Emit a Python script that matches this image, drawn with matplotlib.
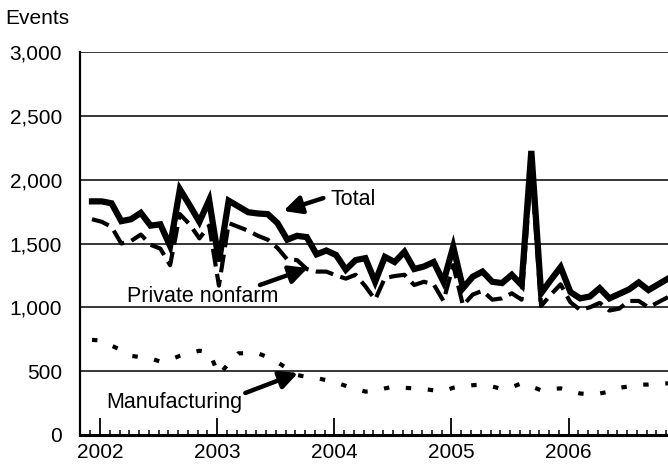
import matplotlib
matplotlib.use("Agg")
import matplotlib.pyplot as plt
import numpy as np

plt.rcParams['font.family'] = ['Liberation Sans', 'DejaVu Sans']

# monthly values, Jan 2002 - Dec 2006
total = [1830, 1830, 1815, 1675, 1690, 1740, 1640, 1650, 1480, 1925, 1800, 1670,
         1840, 1360, 1835, 1790, 1745, 1735, 1730, 1660, 1530, 1560, 1550, 1415,
         1445, 1410, 1295, 1370, 1385, 1200, 1395, 1355, 1435, 1300, 1320, 1355,
         1200, 1475, 1150, 1240, 1280, 1200, 1190, 1255, 1175, 2225, 1110, 1215,
         1315, 1120, 1070, 1085, 1150, 1070, 1105, 1140, 1195, 1135, 1180, 1225]
private_nonfarm = [1690, 1670, 1630, 1500, 1520, 1570, 1490, 1460, 1330, 1730, 1650, 1540,
                   1640, 1170, 1660, 1630, 1600, 1560, 1530, 1465, 1375, 1370, 1300, 1280,
                   1280, 1250, 1225, 1255, 1165, 1060, 1230, 1245, 1255, 1175, 1200, 1180,
                   1050, 1330, 1015, 1100, 1130, 1060, 1070, 1110, 1060, 2100, 1010, 1100,
                   1180, 1040, 980, 1000, 1035, 975, 990, 1050, 1050, 1000, 1040, 1080]
manufacturing = [745, 740, 700, 665, 620, 610, 600, 575, 590, 620, 640, 660,
                 650, 470, 560, 640, 640, 640, 610, 570, 520, 470, 455, 445,
                 430, 410, 385, 360, 340, 345, 365, 380, 370, 365, 360, 350,
                 345, 370, 380, 390, 395, 380, 360, 375, 405, 380, 350, 360,
                 365, 345, 325, 320, 325, 340, 370, 380, 395, 395, 400, 405]
years = ["2002", "2003", "2004", "2005", "2006"]

x = np.arange(len(total))

fig = plt.figure(figsize=(6.68, 4.68), dpi=100)
ax = fig.add_axes([80 / 668, 33 / 468, 588 / 668, 383 / 468])

for yv in range(500, 3001, 500):
    ax.axhline(yv, color="black", lw=1.1, zorder=1)

ax.plot(x, manufacturing, color="black", lw=3, dashes=(1.3, 4.0),
        dash_capstyle="butt", zorder=3)
ax.plot(x, private_nonfarm, color="black", lw=3, dashes=(4.3, 1.8),
        dash_capstyle="butt", zorder=3)
ax.plot(x, total, color="black", lw=4.5, solid_joinstyle="miter", zorder=4)

ax.set_xlim(-1.23, 59.0)
ax.set_ylim(0, 3000)
ax.set_yticks(range(0, 3001, 500))
ax.set_yticklabels([f"{v:,}" for v in range(0, 3001, 500)])
ax.set_xticks([0.82 + 12 * k for k in range(len(years))])
ax.set_xticklabels(years)
ax.set_xticks([-0.18 + k for k in range(60)], minor=True)

ax.tick_params(axis="x", which="major", direction="in", length=12, width=1.3,
               pad=6, labelsize=15)
ax.tick_params(axis="x", which="minor", direction="in", length=3.5, width=1.1)
ax.tick_params(axis="y", length=0, pad=13, labelsize=15)

for s in ["top", "right"]:
    ax.spines[s].set_visible(False)
ax.spines["left"].set_linewidth(1.6)
ax.spines["bottom"].set_linewidth(2.2)

arrow = dict(arrowstyle="-|>", color="black", lw=3.2, mutation_scale=27,
             shrinkA=0, shrinkB=0)
ax.annotate("", xy=(19.6, 1755), xytext=(23.7, 1856), arrowprops=arrow, zorder=5)
ax.text(24.4, 1841, "Total", fontsize=15.5, va="center", ha="left")

ax.annotate("", xy=(22.1, 1308), xytext=(17.2, 1175), arrowprops=arrow, zorder=5)
ax.text(3.6, 1081, "Private nonfarm", fontsize=15.5, va="center", ha="left")

ax.annotate("", xy=(21.1, 486), xytext=(15.7, 329), arrowprops=arrow, zorder=5)
ax.text(1.5, 258, "Manufacturing", fontsize=15.5, va="center", ha="left")

fig.text(5 / 668, 1 - 18 / 468, "Events", fontsize=15, va="center", ha="left")

fig.savefig("out.png", dpi=100)
